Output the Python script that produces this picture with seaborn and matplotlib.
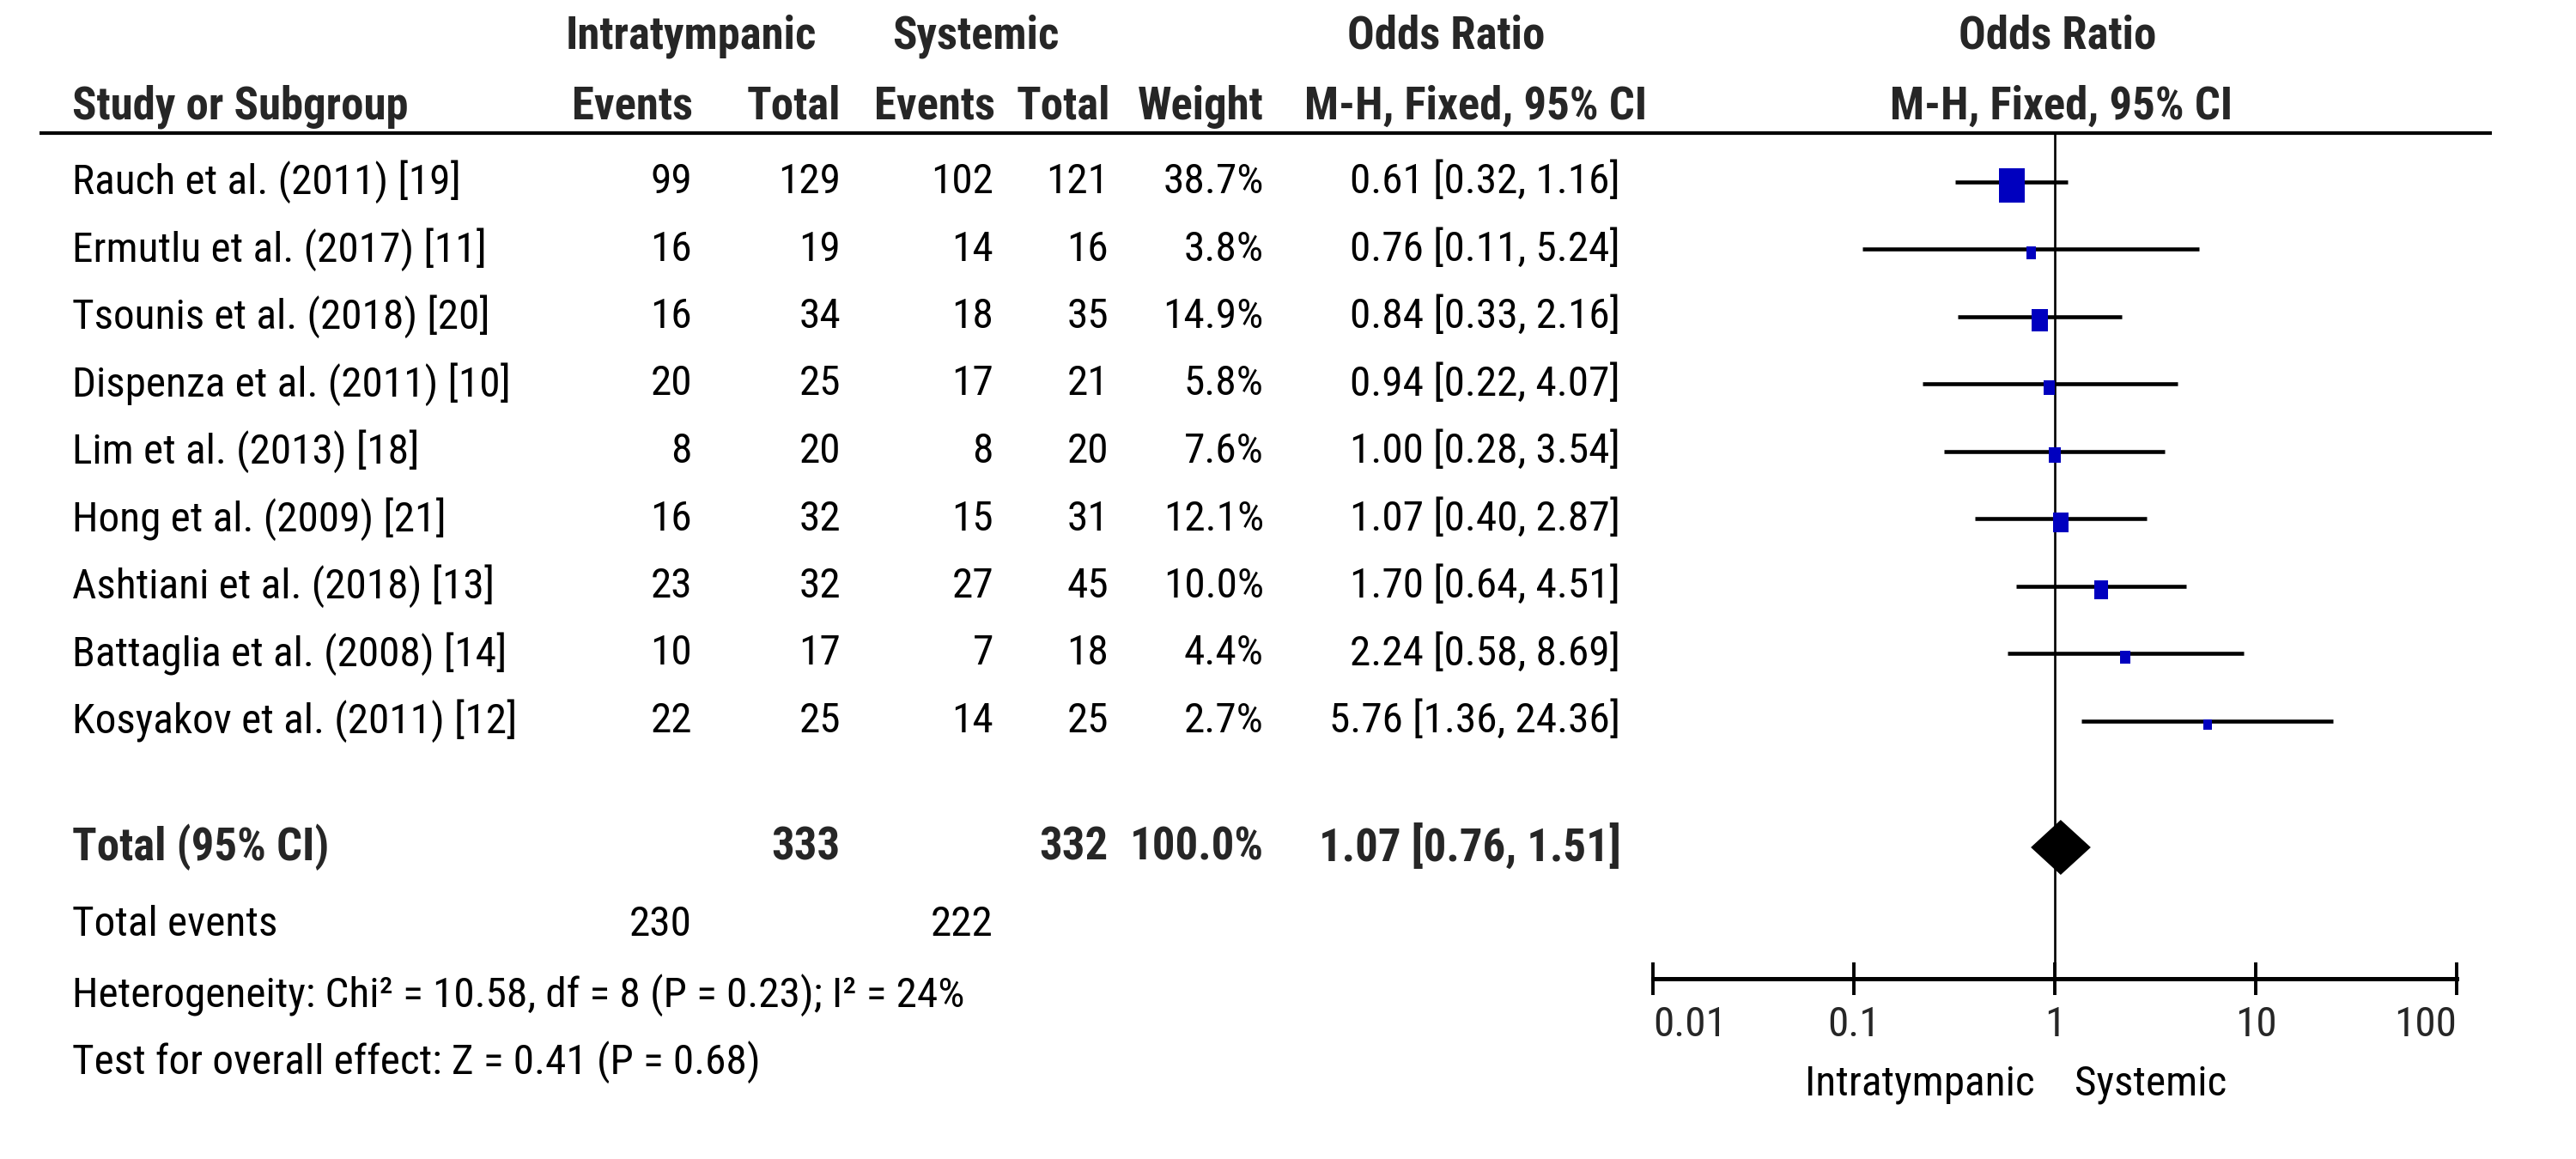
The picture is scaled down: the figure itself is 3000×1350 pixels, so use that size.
import numpy as np
import pandas as pd
import seaborn as sns
import matplotlib
matplotlib.use("Agg")
import matplotlib.pyplot as plt

# ==============================
# Data
# ==============================
studies = [
    "Rauch et al. (2011) [19]",
    "Ermutlu et al. (2017) [11]",
    "Tsounis et al. (2018) [20]",
    "Dispenza et al. (2011) [10]",
    "Lim et al. (2013) [18]",
    "Hong et al. (2009) [21]",
    "Ashtiani et al. (2018) [13]",
    "Battaglia et al. (2008) [14]",
    "Kosyakov et al. (2011) [12]",
]
it_events = [99, 16, 16, 20, 8, 16, 23, 10, 22]
it_total = [129, 19, 34, 25, 20, 32, 32, 17, 25]
sy_events = [102, 14, 18, 17, 8, 15, 27, 7, 14]
sy_total = [121, 16, 35, 21, 20, 31, 45, 18, 25]
weights = [38.7, 3.8, 14.9, 5.8, 7.6, 12.1, 10.0, 4.4, 2.7]
odds = [0.61, 0.76, 0.84, 0.94, 1.00, 1.07, 1.70, 2.24, 5.76]
ci_low = [0.32, 0.11, 0.33, 0.22, 0.28, 0.40, 0.64, 0.58, 1.36]
ci_high = [1.16, 5.24, 2.16, 4.07, 3.54, 2.87, 4.51, 8.69, 24.36]

total_or = 1.07
total_low = 0.76
total_high = 1.51
total_it_n = 333
total_sy_n = 332
total_it_events = 230
total_sy_events = 222
heterogeneity = "Heterogeneity: Chi² = 10.58, df = 8 (P = 0.23); I² = 24%"
overall = "Test for overall effect: Z = 0.41 (P = 0.68)"

axis_ticks = [0.01, 0.1, 1, 10, 100]
axis_labels = ["0.01", "0.1", "1", "10", "100"]

df = pd.DataFrame({
    "study": studies, "it_e": it_events, "it_n": it_total,
    "sy_e": sy_events, "sy_n": sy_total, "w": weights,
    "or": odds, "lo": ci_low, "hi": ci_high,
})
df["row"] = 212 + 78.5 * np.arange(len(df))   # vertical layout, pixels

# ==============================
# Figure / layout (pixel coordinates, 3000 x 1350)
# ==============================
sns.set_theme(style="white")
FONT = ["Roboto Condensed", "Liberation Sans", "DejaVu Sans"]
plt.rcParams["font.family"] = FONT
FS_B = 38
FS = 35.5

W, H = 3000, 1350
fig = plt.figure(figsize=(30, 13.5), dpi=100)
tab = fig.add_axes([0, 0, 1, 1])
tab.set_xlim(0, W)
tab.set_ylim(H, 0)
tab.axis("off")

AX_L, AX_R, AX_TOP, AX_BOT = 1925, 2861, 155, 1140
ax = fig.add_axes([AX_L / W, (H - AX_BOT) / H, (AX_R - AX_L) / W, (AX_BOT - AX_TOP) / H])
ax.patch.set_alpha(0)

bold = dict(fontsize=FS_B, fontweight="bold", color="#262626", va="center")
reg = dict(fontsize=FS, color="black", va="center")

# header
Y1, Y2 = 42, 124
tab.text(805, Y1, "Intratympanic", ha="center", **bold)
tab.text(1136, Y1, "Systemic", ha="center", **bold)
tab.text(1684, Y1, "Odds Ratio", ha="center", **bold)
tab.text(2396, Y1, "Odds Ratio", ha="center", **bold)
tab.text(84, Y2, "Study or Subgroup", ha="left", **bold)
tab.text(807, Y2, "Events", ha="right", **bold)
tab.text(979, Y2, "Total", ha="right", **bold)
tab.text(1159, Y2, "Events", ha="right", **bold)
tab.text(1293, Y2, "Total", ha="right", **bold)
tab.text(1472, Y2, "Weight", ha="right", **bold)
tab.text(1719, Y2, "M-H, Fixed, 95% CI", ha="center", **bold)
tab.text(2401, Y2, "M-H, Fixed, 95% CI", ha="center", **bold)
tab.hlines(155, 46, 2902, color="black", lw=3)

# study rows
for _, r in df.iterrows():
    y = r["row"]
    tab.text(84, y, r["study"], ha="left", **reg)
    tab.text(806, y, f"{r['it_e']}", ha="right", **reg)
    tab.text(979, y, f"{r['it_n']}", ha="right", **reg)
    tab.text(1157, y, f"{r['sy_e']}", ha="right", **reg)
    tab.text(1291, y, f"{r['sy_n']}", ha="right", **reg)
    tab.text(1472, y, f"{r['w']:.1f}%", ha="right", **reg)
    tab.text(1887, y, f"{r['or']:.2f} [{r['lo']:.2f}, {r['hi']:.2f}]", ha="right", **reg)

# totals
YT = 987
tab.text(84, YT, "Total (95% CI)", ha="left", **bold)
tab.text(979, YT, f"{total_it_n}", ha="right", **bold)
tab.text(1291, YT, f"{total_sy_n}", ha="right", **bold)
tab.text(1472, YT, f"{sum(weights):.1f}%", ha="right", **bold)
tab.text(1888, YT, f"{total_or:.2f} [{total_low:.2f}, {total_high:.2f}]", ha="right", **bold)
tab.text(84, 1077, "Total events", ha="left", **reg)
tab.text(806, 1077, f"{total_it_events}", ha="right", **reg)
tab.text(1157, 1077, f"{total_sy_events}", ha="right", **reg)
tab.text(84, 1159, heterogeneity, ha="left", **reg)
tab.text(84, 1237, overall, ha="left", **reg)

# ==============================
# Forest plot
# ==============================
ax.set_xscale("log")
ax.set_xlim(0.01, 100)
ax.set_ylim(AX_BOT, AX_TOP)

ax.axvline(1, color="black", lw=1.9, zorder=1)
ax.hlines(df["row"], df["lo"], df["hi"], color="black", lw=3.3, zorder=2)

box = [(-0.385, -0.5), (0.385, -0.5), (0.385, 0.5), (-0.385, 0.5)]
sns.scatterplot(x=df["or"], y=df["row"] + 4, marker=box, s=df["w"] * 20.4 + 25,
                color="#0000BF", linewidth=0, ax=ax, legend=False, zorder=3)

# pooled diamond
dh = 32
ax.fill([total_low, total_or, total_high, total_or],
        [YT, YT - dh, YT, YT + dh], color="black", lw=0, zorder=3)

for s in ["top", "left", "right"]:
    ax.spines[s].set_visible(False)
ax.spines["bottom"].set_linewidth(3.6)
ax.spines["bottom"].set_color("black")
ax.set_yticks([])
ax.set_xticks(axis_ticks)
ax.set_xticklabels(axis_labels)
ax.minorticks_off()
ax.tick_params(axis="x", which="major", direction="inout", length=28, width=2.8,
               color="black", labelsize=FS, pad=8, bottom=True)
tl = ax.get_xticklabels()
tl[0].set_ha("left")
tl[-1].set_ha("right")
ax.set_xlabel("")
ax.set_ylabel("")

tab.text(2370, 1263, "Intratympanic", ha="right", **reg)
tab.text(2416, 1263, "Systemic", ha="left", **reg)

fig.savefig("out.png", dpi=100, facecolor="white")
